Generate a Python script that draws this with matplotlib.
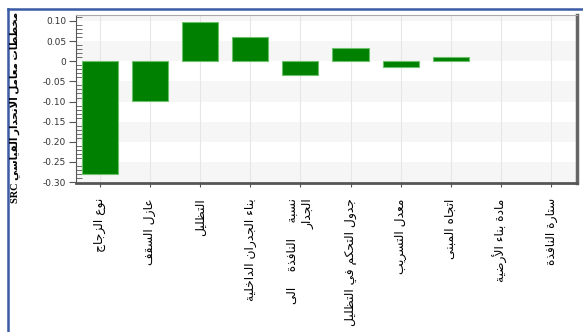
# SRC bar chart (Arabic labels) - manual Arabic shaping since matplotlib has no bidi
import matplotlib
matplotlib.use('Agg')
import matplotlib.pyplot as plt
from matplotlib.lines import Line2D
from matplotlib.ticker import MultipleLocator, FuncFormatter

labels = ['نوع الزجاج', 'عازل السقف', 'التظليل', 'بناء الجدران الداخلية',
          'نسبة    النافذة    الى\nالجدار', 'جدول التحكم في التظليل', 'معدل التسريب',
          'اتجاه المبنى', 'مادة بناء الأرضية', 'ستارة النافذة']
src_values = [-0.279, -0.098, 0.097, 0.060, -0.034, 0.033, -0.014, 0.010, 0.0, 0.0]
ylabel_ar = 'مخططات معامل الانحدار القياسي'

# presentation forms: (isolated, final, initial, medial)
FORMS = {
    'ء': (0xFE80,), 'أ': (0xFE83, 0xFE84), 'ا': (0xFE8D, 0xFE8E),
    'ب': (0xFE8F, 0xFE90, 0xFE91, 0xFE92), 'ة': (0xFE93, 0xFE94),
    'ت': (0xFE95, 0xFE96, 0xFE97, 0xFE98), 'ج': (0xFE9D, 0xFE9E, 0xFE9F, 0xFEA0),
    'ح': (0xFEA1, 0xFEA2, 0xFEA3, 0xFEA4), 'خ': (0xFEA5, 0xFEA6, 0xFEA7, 0xFEA8),
    'د': (0xFEA9, 0xFEAA), 'ذ': (0xFEAB, 0xFEAC), 'ر': (0xFEAD, 0xFEAE),
    'ز': (0xFEAF, 0xFEB0), 'س': (0xFEB1, 0xFEB2, 0xFEB3, 0xFEB4),
    'ض': (0xFEBD, 0xFEBE, 0xFEBF, 0xFEC0), 'ط': (0xFEC1, 0xFEC2, 0xFEC3, 0xFEC4),
    'ظ': (0xFEC5, 0xFEC6, 0xFEC7, 0xFEC8), 'ع': (0xFEC9, 0xFECA, 0xFECB, 0xFECC),
    'ف': (0xFED1, 0xFED2, 0xFED3, 0xFED4), 'ق': (0xFED5, 0xFED6, 0xFED7, 0xFED8),
    'ك': (0xFED9, 0xFEDA, 0xFEDB, 0xFEDC), 'ل': (0xFEDD, 0xFEDE, 0xFEDF, 0xFEE0),
    'م': (0xFEE1, 0xFEE2, 0xFEE3, 0xFEE4), 'ن': (0xFEE5, 0xFEE6, 0xFEE7, 0xFEE8),
    'ه': (0xFEE9, 0xFEEA, 0xFEEB, 0xFEEC), 'و': (0xFEED, 0xFEEE),
    'ى': (0xFEEF, 0xFEF0), 'ي': (0xFEF1, 0xFEF2, 0xFEF3, 0xFEF4),
}
LAMALEF = {'ا': (0xFEFB, 0xFEFC), 'أ': (0xFEF7, 0xFEF8)}


def dual(c):
    return c in FORMS and len(FORMS[c]) == 4


def joins(c):
    return c in FORMS and len(FORMS[c]) > 1


def shape_word(s):
    out = []
    i = 0
    while i < len(s):
        c = s[i]
        prev = s[i - 1] if i > 0 else ''
        nxt = s[i + 1] if i + 1 < len(s) else ''
        if c not in FORMS:
            out.append(c)
            i += 1
            continue
        p = dual(prev)
        if c == 'ل' and nxt in LAMALEF:
            out.append(chr(LAMALEF[nxt][1 if p else 0]))
            i += 2
            continue
        n = dual(c) and joins(nxt)
        f = FORMS[c]
        if len(f) == 1:
            k = 0
        elif p and n:
            k = 3
        elif n:
            k = 2
        elif p:
            k = 1
        else:
            k = 0
        out.append(chr(f[k]))
        i += 1
    return ''.join(out)


def ar(text):
    return '\n'.join(shape_word(line)[::-1] for line in text.split('\n'))


fig = plt.figure(figsize=(5.83, 3.32), dpi=100)
ax = fig.add_axes([0.130, 0.449, 0.860, 0.506])

x = list(range(len(labels)))
ax.bar(x, src_values, width=0.72, color='#008000', edgecolor='#6cc06c',
       linewidth=[0.8 if v != 0 else 0 for v in src_values], zorder=3)

ax.set_xlim(-0.48, 9.52)
ax.set_ylim(-0.302, 0.115)

# alternating light bands
for lo in [0.10, 0.0, -0.10, -0.20, -0.30]:
    ax.axhspan(lo, lo + 0.05, color='#f6f6f6', zorder=0, lw=0)
for xi in x:
    ax.axvline(xi, color='#e6e6e6', lw=0.8, zorder=1)

ax.yaxis.set_major_locator(MultipleLocator(0.05))
ax.yaxis.set_minor_locator(MultipleLocator(0.01))
ax.yaxis.set_major_formatter(FuncFormatter(lambda v, p: '0' if abs(v) < 1e-9 else '%.2f' % v))
ax.tick_params(axis='y', which='major', direction='out', length=5, width=0.8, color='#555555',
               labelsize=6.5, labelcolor='#333333', pad=2)
ax.tick_params(axis='y', which='minor', direction='in', length=4, width=0.6, color='#555555')
ax.set_xticks(x)
ax.set_xticklabels([ar(l) for l in labels], rotation=90, va='top', ha='center',
                   multialignment='right', fontsize=8.8, family='DejaVu Sans')
ax.tick_params(axis='x', direction='out', length=3, width=0.8, color='#555555', pad=8)

ax.spines['top'].set_color('#aaaaaa')
ax.spines['left'].set_color('#555555')
ax.spines['bottom'].set_color('#555555')
ax.spines['bottom'].set_linewidth(2)
ax.spines['right'].set_color('#666666')
ax.spines['right'].set_linewidth(2.5)

fig.text(15 / 583, 0.675, 'SRC ' + ar(ylabel_ar), rotation=90, ha='center', va='center',
         fontsize=7.4, fontweight='bold', family=['Liberation Serif', 'DejaVu Sans'])

# blue frame of the original screenshot
fig.add_artist(Line2D([8 / 583, 1], [1 - 9 / 332, 1 - 9 / 332], color='#3b5ba5', lw=1.8,
                      transform=fig.transFigure))
fig.add_artist(Line2D([8 / 583, 8 / 583], [0, 1 - 9 / 332], color='#3b5ba5', lw=1.8,
                      transform=fig.transFigure))

fig.savefig('out.png', dpi=100)
